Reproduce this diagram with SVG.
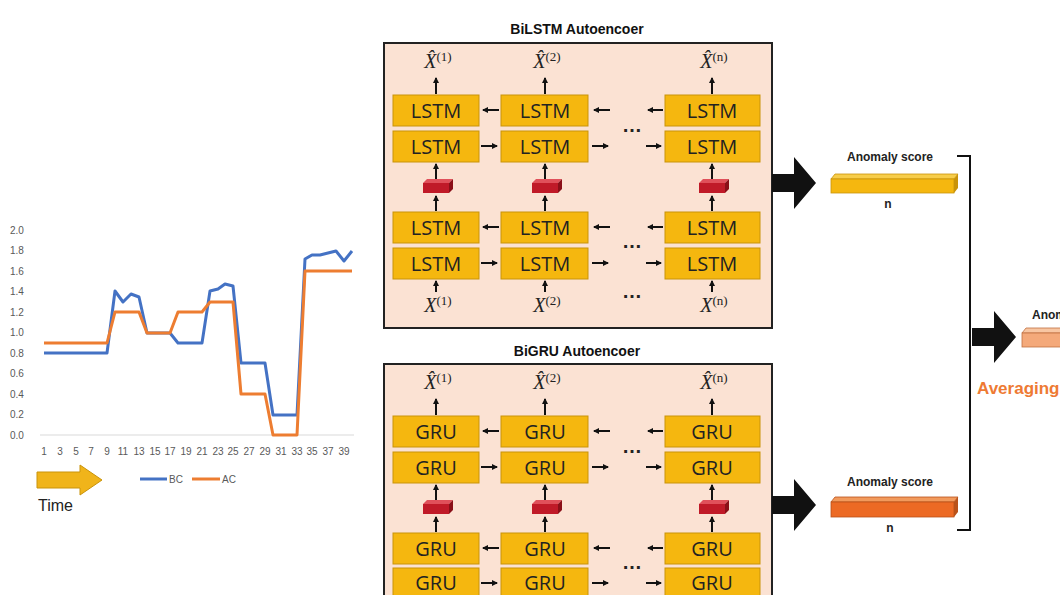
<svg xmlns="http://www.w3.org/2000/svg" width="1060" height="595" viewBox="0 0 1060 595">
<style>
.ax{font-family:"Liberation Sans",Arial,sans-serif;font-size:10px;fill:#595959}
.cell{fill:#f5b70f;stroke:#c9930a;stroke-width:1}
.ct{font-family:"Open Sans","Liberation Sans",sans-serif;font-size:20px;fill:#222;text-anchor:middle}
.ttl{font-family:"Liberation Sans",Arial,sans-serif;font-size:14px;font-weight:bold;fill:#111;text-anchor:middle}
.sm{font-family:"Liberation Sans",Arial,sans-serif;font-size:12px;font-weight:bold;fill:#222;text-anchor:middle}
.xl{font-family:"Liberation Serif",serif;font-size:20px;font-style:italic;fill:#222;text-anchor:middle}
.ar{stroke:#111;stroke-width:2;fill:none;marker-end:url(#ah)}
.dots{font-family:"Liberation Sans",Arial,sans-serif;font-size:20px;font-weight:bold;fill:#222;text-anchor:middle}
</style>
<defs>
<marker id="ah" markerWidth="6" markerHeight="6" refX="5" refY="3" orient="auto" markerUnits="userSpaceOnUse"><path d="M0,0 L6,3 L0,6 Z" fill="#111"/></marker>
<g id="emb"><polygon points="-13,-3 -9,-7 17,-7 13,-3" fill="#e0505a"/><polygon points="13,-3 17,-7 17,3 13,7" fill="#8a0f18"/><rect x="-13" y="-3" width="26" height="10" fill="#c01a28"/></g>
<path id="big" d="M0,-9 L22,-9 L22,-26 L44,0 L22,26 L22,9 L0,9 Z" fill="#111"/>
</defs>
<rect width="1060" height="595" fill="#fff"/>
<g id="chart">
<g class="ax" text-anchor="start">
<text x="10" y="234">2.0</text><text x="10" y="254">1.8</text><text x="10" y="275">1.6</text><text x="10" y="295">1.4</text><text x="10" y="316">1.2</text><text x="10" y="336">1.0</text><text x="10" y="357">0.8</text><text x="10" y="377">0.6</text><text x="10" y="398">0.4</text><text x="10" y="418">0.2</text><text x="10" y="439">0.0</text>
</g>
<line x1="40" y1="435" x2="354" y2="435" stroke="#d9d9d9"/>
<g class="ax" text-anchor="middle">
<text x="44" y="455">1</text><text x="60" y="455">3</text><text x="76" y="455">5</text><text x="91" y="455">7</text><text x="107" y="455">9</text><text x="123" y="455">11</text><text x="139" y="455">13</text><text x="155" y="455">15</text><text x="170" y="455">17</text><text x="186" y="455">19</text><text x="202" y="455">21</text><text x="218" y="455">23</text><text x="233" y="455">25</text><text x="249" y="455">27</text><text x="265" y="455">29</text><text x="281" y="455">31</text><text x="297" y="455">33</text><text x="312" y="455">35</text><text x="328" y="455">37</text><text x="344" y="455">39</text>
</g>
<polyline fill="none" stroke="#4472c4" stroke-width="3" stroke-linejoin="round" points="44,353 107,353 115,291 123,302 131,294 139,297 147,333 170,333 178,343 202,343 210,291 218,289 225,284 233,286 241,363 265,363 273,415 297,415 305,259 312,255 320,255 328,253 336,251 344,261 352,251"/>
<polyline fill="none" stroke="#ed7d31" stroke-width="3" stroke-linejoin="round" points="44,343 107,343 115,312 139,312 147,333 170,333 178,312 202,312 210,302 233,302 241,394 265,394 273,435 297,435 305,271 352,271"/>
<line x1="140" y1="479" x2="167" y2="479" stroke="#4472c4" stroke-width="3"/><text class="ax" x="169" y="483">BC</text>
<line x1="192" y1="479" x2="220" y2="479" stroke="#ed7d31" stroke-width="3"/><text class="ax" x="222" y="483">AC</text>
<polygon points="37,472 80,472 80,465 102,480 80,495 80,488 37,488" fill="#f0b41a" stroke="#c9930a"/>
<text x="38" y="511" font-family="Liberation Sans,Arial,sans-serif" font-size="16" fill="#222">Time</text>
</g>
<g id="bilstm">
<text class="ttl" x="577" y="34">BiLSTM Autoencoer</text>
<rect x="384" y="43" width="388" height="285" fill="#fbe2d3" stroke="#222" stroke-width="2"/>
</g>
<g id="bigru">
<text class="ttl" x="577" y="356">BiGRU Autoencoer</text>
<rect x="384" y="364" width="388" height="240" fill="#fbe2d3" stroke="#222" stroke-width="2"/>
</g>
<g id="lstm-cells">
<rect class="cell" x="393" y="95" width="86" height="31"/><text class="ct" x="436" y="118">LSTM</text>
<rect class="cell" x="501" y="95" width="87" height="31"/><text class="ct" x="545" y="118">LSTM</text>
<rect class="cell" x="665" y="95" width="95" height="31"/><text class="ct" x="712" y="118">LSTM</text>
<rect class="cell" x="393" y="131" width="86" height="31"/><text class="ct" x="436" y="154">LSTM</text>
<rect class="cell" x="501" y="131" width="87" height="31"/><text class="ct" x="545" y="154">LSTM</text>
<rect class="cell" x="665" y="131" width="95" height="31"/><text class="ct" x="712" y="154">LSTM</text>
<rect class="cell" x="393" y="212" width="86" height="31"/><text class="ct" x="436" y="235">LSTM</text>
<rect class="cell" x="501" y="212" width="87" height="31"/><text class="ct" x="545" y="235">LSTM</text>
<rect class="cell" x="665" y="212" width="95" height="31"/><text class="ct" x="712" y="235">LSTM</text>
<rect class="cell" x="393" y="248" width="86" height="31"/><text class="ct" x="436" y="271">LSTM</text>
<rect class="cell" x="501" y="248" width="87" height="31"/><text class="ct" x="545" y="271">LSTM</text>
<rect class="cell" x="665" y="248" width="95" height="31"/><text class="ct" x="712" y="271">LSTM</text>
<use href="#emb" x="436" y="186"/><use href="#emb" x="545" y="186"/><use href="#emb" x="712" y="186"/>
<text class="xl" x="438" y="68">X̂<tspan font-size="13" font-style="normal" dy="-7">(1)</tspan></text>
<text class="xl" x="547" y="68">X̂<tspan font-size="13" font-style="normal" dy="-7">(2)</tspan></text>
<text class="xl" x="714" y="68">X̂<tspan font-size="13" font-style="normal" dy="-7">(n)</tspan></text>
<text class="xl" x="438" y="312">X<tspan font-size="13" font-style="normal" dy="-7">(1)</tspan></text>
<text class="xl" x="547" y="312">X<tspan font-size="13" font-style="normal" dy="-7">(2)</tspan></text>
<text class="xl" x="714" y="312">X<tspan font-size="13" font-style="normal" dy="-7">(n)</tspan></text>
<text class="dots" x="632" y="132">…</text><text class="dots" x="632" y="248">…</text><text class="dots" x="632" y="298">…</text>
</g>
<g id="gru-cells">
<rect class="cell" x="393" y="416" width="86" height="31"/><text class="ct" x="436" y="439">GRU</text>
<rect class="cell" x="501" y="416" width="87" height="31"/><text class="ct" x="545" y="439">GRU</text>
<rect class="cell" x="665" y="416" width="95" height="31"/><text class="ct" x="712" y="439">GRU</text>
<rect class="cell" x="393" y="452" width="86" height="31"/><text class="ct" x="436" y="475">GRU</text>
<rect class="cell" x="501" y="452" width="87" height="31"/><text class="ct" x="545" y="475">GRU</text>
<rect class="cell" x="665" y="452" width="95" height="31"/><text class="ct" x="712" y="475">GRU</text>
<rect class="cell" x="393" y="533" width="86" height="31"/><text class="ct" x="436" y="556">GRU</text>
<rect class="cell" x="501" y="533" width="87" height="31"/><text class="ct" x="545" y="556">GRU</text>
<rect class="cell" x="665" y="533" width="95" height="31"/><text class="ct" x="712" y="556">GRU</text>
<rect class="cell" x="393" y="568" width="86" height="31"/><text class="ct" x="436" y="590">GRU</text>
<rect class="cell" x="501" y="568" width="87" height="31"/><text class="ct" x="545" y="590">GRU</text>
<rect class="cell" x="665" y="568" width="95" height="31"/><text class="ct" x="712" y="590">GRU</text>
<use href="#emb" x="436" y="507"/><use href="#emb" x="545" y="507"/><use href="#emb" x="712" y="507"/>
<text class="xl" x="438" y="389">X̂<tspan font-size="13" font-style="normal" dy="-7">(1)</tspan></text>
<text class="xl" x="547" y="389">X̂<tspan font-size="13" font-style="normal" dy="-7">(2)</tspan></text>
<text class="xl" x="714" y="389">X̂<tspan font-size="13" font-style="normal" dy="-7">(n)</tspan></text>
<text class="dots" x="632" y="453">…</text><text class="dots" x="632" y="569">…</text>
</g>
<g id="scores">
<text class="sm" x="890" y="161">Anomaly score</text>
<polygon points="831,179 835,174 958,174 954,179" fill="#f7cd4a" stroke="#c9930a" stroke-width="0.8"/>
<polygon points="954,179 958,174 958,188 954,193" fill="#c9930a"/>
<rect x="831" y="179" width="123" height="14" fill="#f5b70f" stroke="#c9930a" stroke-width="0.8"/>
<text class="sm" x="888" y="208">n</text>
<text class="sm" x="890" y="486">Anomaly score</text>
<polygon points="831,502 835,497 958,497 954,502" fill="#f29a5c" stroke="#b9521a" stroke-width="0.8"/>
<polygon points="954,502 958,497 958,512 954,517" fill="#b9521a"/>
<rect x="831" y="502" width="123" height="15" fill="#ec6a24" stroke="#b9521a" stroke-width="0.8"/>
<text class="sm" x="890" y="532">n</text>
<text class="sm" x="1032" y="319" style="text-anchor:start">Anomaly score</text>
<polygon points="1022,333 1026,328 1062,328 1062,333" fill="#f8c6a2" stroke="#c07040" stroke-width="0.8"/>
<rect x="1022" y="333" width="45" height="14" fill="#f4a97a" stroke="#c07040" stroke-width="0.8"/>
<text x="977" y="394" font-family="Liberation Sans,Arial,sans-serif" font-size="17" font-weight="bold" fill="#ee7a33">Averaging</text>
</g>
<g id="connectors">
<use href="#big" x="772" y="183"/><use href="#big" x="772" y="505"/><use href="#big" x="972" y="337"/>
<path d="M957,156 L970,156 L970,530 L957,530" fill="none" stroke="#111" stroke-width="2"/>
<line class="ar" x1="436" y1="94" x2="436" y2="78"/><line class="ar" x1="545" y1="94" x2="545" y2="78"/><line class="ar" x1="712" y1="94" x2="712" y2="78"/>
<line class="ar" x1="499" y1="110" x2="483" y2="110"/><line class="ar" x1="610" y1="110" x2="594" y2="110"/><line class="ar" x1="663" y1="110" x2="648" y2="110"/>
<line class="ar" x1="481" y1="146" x2="497" y2="146"/><line class="ar" x1="592" y1="146" x2="608" y2="146"/><line class="ar" x1="646" y1="146" x2="661" y2="146"/>
<line class="ar" x1="436" y1="179" x2="436" y2="164"/><line class="ar" x1="545" y1="179" x2="545" y2="164"/><line class="ar" x1="712" y1="179" x2="712" y2="164"/>
<line class="ar" x1="436" y1="211" x2="436" y2="196"/><line class="ar" x1="545" y1="211" x2="545" y2="196"/><line class="ar" x1="712" y1="211" x2="712" y2="196"/>
<line class="ar" x1="499" y1="227" x2="483" y2="227"/><line class="ar" x1="610" y1="227" x2="594" y2="227"/><line class="ar" x1="663" y1="227" x2="648" y2="227"/>
<line class="ar" x1="481" y1="263" x2="497" y2="263"/><line class="ar" x1="592" y1="263" x2="608" y2="263"/><line class="ar" x1="646" y1="263" x2="661" y2="263"/>
<line class="ar" x1="436" y1="292" x2="436" y2="281"/><line class="ar" x1="545" y1="292" x2="545" y2="281"/><line class="ar" x1="712" y1="292" x2="712" y2="281"/>
<line class="ar" x1="436" y1="415" x2="436" y2="399"/><line class="ar" x1="545" y1="415" x2="545" y2="399"/><line class="ar" x1="712" y1="415" x2="712" y2="399"/>
<line class="ar" x1="499" y1="431" x2="483" y2="431"/><line class="ar" x1="610" y1="431" x2="594" y2="431"/><line class="ar" x1="663" y1="431" x2="648" y2="431"/>
<line class="ar" x1="481" y1="467" x2="497" y2="467"/><line class="ar" x1="592" y1="467" x2="608" y2="467"/><line class="ar" x1="646" y1="467" x2="661" y2="467"/>
<line class="ar" x1="436" y1="500" x2="436" y2="485"/><line class="ar" x1="545" y1="500" x2="545" y2="485"/><line class="ar" x1="712" y1="500" x2="712" y2="485"/>
<line class="ar" x1="436" y1="532" x2="436" y2="517"/><line class="ar" x1="545" y1="532" x2="545" y2="517"/><line class="ar" x1="712" y1="532" x2="712" y2="517"/>
<line class="ar" x1="499" y1="548" x2="483" y2="548"/><line class="ar" x1="610" y1="548" x2="594" y2="548"/><line class="ar" x1="663" y1="548" x2="648" y2="548"/>
<line class="ar" x1="481" y1="583" x2="497" y2="583"/><line class="ar" x1="592" y1="583" x2="608" y2="583"/><line class="ar" x1="646" y1="583" x2="661" y2="583"/>
</g>
</svg>
